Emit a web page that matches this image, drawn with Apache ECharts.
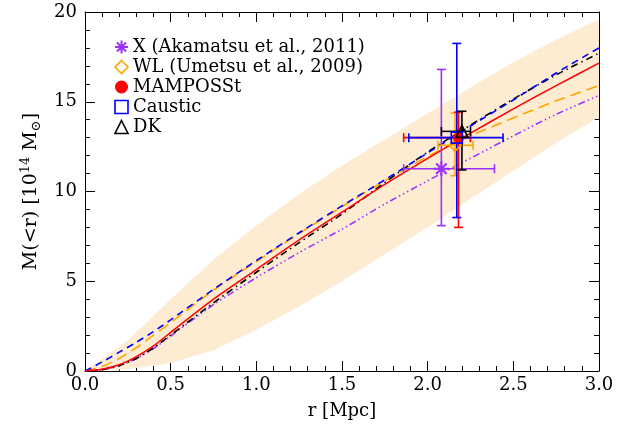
<!DOCTYPE html>
<html>
<head>
<meta charset="utf-8">
<script src="https://cdn.jsdelivr.net/npm/echarts@6/dist/echarts.min.js"></script>
<style>
  html, body { margin: 0; padding: 0; background: #fff; }
  #chart { width: 635px; height: 437px; }
</style>
</head>
<body>
<div id="chart"></div>
<script>
// radii (Mpc) where the model profiles were read
const radius = [0, 0.1, 0.2, 0.3, 0.4, 0.5, 0.75, 1.0, 1.25, 1.5, 1.75, 2.0, 2.25, 2.5, 2.75, 3.0];
const massMamposst = [0, 0.1, 0.35, 0.8, 1.4, 2.15, 4.0, 5.65, 7.3, 8.85, 10.4, 11.85, 13.25, 14.6, 15.9, 17.15];
const massCaustic = [0, 0.5, 1.05, 1.6, 2.2, 2.85, 4.55, 6.15, 7.7, 9.2, 10.65, 12.15, 13.65, 15.1, 16.6, 18.0];
const massWL = [0, 0.25, 0.7, 1.3, 2.0, 2.7, 4.5, 6.1, 7.65, 9.15, 10.6, 11.95, 13.1, 14.1, 15.05, 15.9];
const massDK = [0, 0.08, 0.3, 0.7, 1.3, 2.0, 3.8, 5.5, 7.15, 8.75, 10.5, 12.2, 13.7, 15.15, 16.5, 17.7];
const massX = [0, 0.08, 0.3, 0.7, 1.25, 1.95, 3.7, 5.2, 6.6, 7.9, 9.3, 10.6, 11.85, 13.1, 14.3, 15.35];

// shaded uncertainty band
const bandR = [0, 0.25, 0.5, 0.75, 1.0, 1.25, 1.5, 1.75, 2.0, 2.25, 2.5, 2.75, 3.0];
const bandLow = [0, 0.1, 0.45, 1.15, 2.3, 3.6, 5.0, 6.5, 8.0, 9.6, 11.15, 12.7, 14.15];
const bandHigh = [0, 1.7, 4.0, 6.2, 8.1, 9.85, 11.45, 12.9, 14.35, 15.8, 17.2, 18.45, 19.6];

// single measurements with error bars
const pointNames = ['X (Akamatsu et al., 2011)', 'WL (Umetsu et al., 2009)', 'MAMPOSSt', 'Caustic', 'DK'];
const pointR = [2.08, 2.16, 2.18, 2.17, 2.20];
const pointM = [11.27, 12.58, 13.0, 13.0, 13.35];
const pointRLow = [1.86, 2.06, 1.86, 1.89, 2.08];
const pointRHigh = [2.39, 2.265, 2.25, 2.44, 2.25];
const pointMLow = [8.1, 10.88, 8.0, 8.55, 11.2];
const pointMHigh = [16.8, 14.37, 14.42, 18.25, 14.47];

const chart = echarts.init(document.getElementById('chart'));
const font = 'DejaVu Serif';
const purple = '#9b30ff';
const orange = '#ffa500';
const red = '#ff0000';
const blue = '#0000ff';
const black = '#000000';
const pointColors = [purple, orange, red, blue, black];
const asterisk = 'path://M0,-10L0,10M-10,0L10,0M-7,-7L7,7M-7,7L7,-7';

const pairs = (xs, ys) => xs.map((x, i) => [x, ys[i]]);

function frameAxis(position, showLabel) {
  return {
    type: 'value',
    position: position,
    axisLine: { show: true, onZero: false, lineStyle: { color: black, width: 1 } },
    axisTick: { show: true, inside: true, length: 10, lineStyle: { color: black, width: 1 } },
    minorTick: { show: true, splitNumber: 5, length: 5, lineStyle: { color: black, width: 1 } },
    splitLine: { show: false },
    axisLabel: { show: showLabel, fontFamily: font, fontSize: 18, color: black }
  };
}

const xBottom = frameAxis('bottom', true);
Object.assign(xBottom, { min: 0, max: 3, interval: 0.5, name: 'r [Mpc]', nameLocation: 'middle', nameGap: 31,
  nameTextStyle: { fontFamily: font, fontSize: 18, color: black } });
xBottom.axisLabel.margin = 5;
xBottom.axisLabel.formatter = (v) => v.toFixed(1);
const xTop = frameAxis('top', false);
Object.assign(xTop, { min: 0, max: 3, interval: 0.5 });

const yLeft = frameAxis('left', true);
Object.assign(yLeft, {
  min: 0, max: 20, interval: 5,
  name: 'M(<r) [10{sup|14} M{sub|⊙}]', nameLocation: 'middle', nameGap: 42,
  nameTextStyle: {
    fontFamily: font, fontSize: 19, color: black, lineHeight: 24,
    rich: {
      sup: { fontFamily: font, fontSize: 13, lineHeight: 12, verticalAlign: 'top', color: black },
      sub: { fontFamily: font, fontSize: 13, lineHeight: 12, verticalAlign: 'bottom', color: black }
    }
  }
});
yLeft.axisLabel.margin = 8;
const yRight = frameAxis('right', false);
Object.assign(yRight, { min: 0, max: 20, interval: 5 });

function curve(name, data, color, dash, width) {
  return {
    type: 'line', name: name + ' model', data: pairs(radius, data),
    symbol: 'none', smooth: 0.25, z: 3, silent: true,
    lineStyle: { color: color, width: width, type: dash }
  };
}

const markerSymbols = [asterisk, 'diamond', 'circle', 'rect', 'triangle'];
const markerSizes = [15, 12, 11, 11, 12];
const markerStyles = [
  { color: purple, borderColor: purple, borderWidth: 2, opacity: 1 },
  { color: 'rgba(255,255,255,0)', borderColor: orange, borderWidth: 1.6, opacity: 1 },
  { color: red, opacity: 1 },
  { color: 'rgba(255,255,255,0)', borderColor: blue, borderWidth: 1.6, opacity: 1 },
  { color: 'rgba(255,255,255,0)', borderColor: black, borderWidth: 1.6, opacity: 1 }
];
const legendStyles = [
  { color: purple, borderColor: purple, borderWidth: 2 },
  { color: '#fff', borderColor: orange, borderWidth: 1.6 },
  { color: red, borderWidth: 0 },
  { color: '#fff', borderColor: blue, borderWidth: 1.6 },
  { color: '#fff', borderColor: black, borderWidth: 1.6 }
];

const markers = pointNames.map((name, i) => ({
  type: 'scatter', name: name,
  data: [[pointR[i], pointM[i]]],
  symbol: markerSymbols[i], symbolSize: markerSizes[i],
  itemStyle: markerStyles[i], z: 6
}));

const errorBars = {
  type: 'custom', name: 'errors', z: 5, silent: true,
  data: pointR.map((r, i) => [r, pointM[i], pointRLow[i], pointRHigh[i], pointMLow[i], pointMHigh[i]]),
  encode: { x: [0, 2, 3], y: [1, 4, 5] },
  renderItem: (params, api) => {
    const i = params.dataIndex;
    const c = api.coord([api.value(0), api.value(1)]);
    const lx = api.coord([api.value(2), api.value(1)])[0];
    const rx = api.coord([api.value(3), api.value(1)])[0];
    const by = api.coord([api.value(0), api.value(4)])[1];
    const ty = api.coord([api.value(0), api.value(5)])[1];
    const cap = 4.5;
    const style = { stroke: pointColors[i], lineWidth: 1.6 };
    const seg = (x1, y1, x2, y2) => ({ type: 'line', shape: { x1, y1, x2, y2 }, style });
    return {
      type: 'group',
      children: [
        seg(lx, c[1], rx, c[1]),
        seg(lx, c[1] - cap, lx, c[1] + cap),
        seg(rx, c[1] - cap, rx, c[1] + cap),
        seg(c[0], by, c[0], ty),
        seg(c[0] - cap, by, c[0] + cap, by),
        seg(c[0] - cap, ty, c[0] + cap, ty)
      ]
    };
  }
};

// band drawn as one polygon through the axis scales
const band = {
  type: 'custom', name: 'band', z: 1, silent: true,
  data: bandR.map((r, i) => [r, bandLow[i], bandHigh[i]]),
  encode: { x: 0, y: [1, 2] },
  renderItem: (params, api) => {
    if (params.dataIndex !== 0) return null;
    const upper = bandR.map((r, i) => api.coord([r, bandHigh[i]]));
    const lower = bandR.map((r, i) => api.coord([r, bandLow[i]])).reverse();
    return {
      type: 'polygon',
      shape: { points: upper.concat(lower) },
      style: { fill: '#fdebd2', stroke: 'none' }
    };
  }
};

chart.setOption({
  animation: false,
  backgroundColor: '#fff',
  grid: { left: 85, right: 36, top: 12, bottom: 66, outerBoundsMode: 'none' },
  xAxis: [xBottom, xTop],
  yAxis: [yLeft, yRight],
  legend: {
    orient: 'vertical', left: 109, top: 33,
    itemWidth: 13, itemHeight: 13, itemGap: 2,
    selectedMode: false,
    textStyle: { fontFamily: font, fontSize: 18, color: black, lineHeight: 18 },
    data: pointNames.map((name, i) => ({ name: name, icon: markerSymbols[i], itemStyle: legendStyles[i] }))
  },
  series: [
    band,
    curve('X', massX, purple, [7, 3, 1.5, 3, 1.5, 3, 1.5, 3], 1.6),
    curve('WL', massWL, orange, [11, 6], 1.6),
    curve('DK', massDK, black, [7, 4, 1.5, 4], 1.6),
    curve('Caustic', massCaustic, blue, [7, 5], 1.6),
    curve('MAMPOSSt', massMamposst, red, 'solid', 1.5),
    errorBars
  ].concat(markers)
});

window.addEventListener('resize', () => chart.resize());
</script>
</body>
</html>
